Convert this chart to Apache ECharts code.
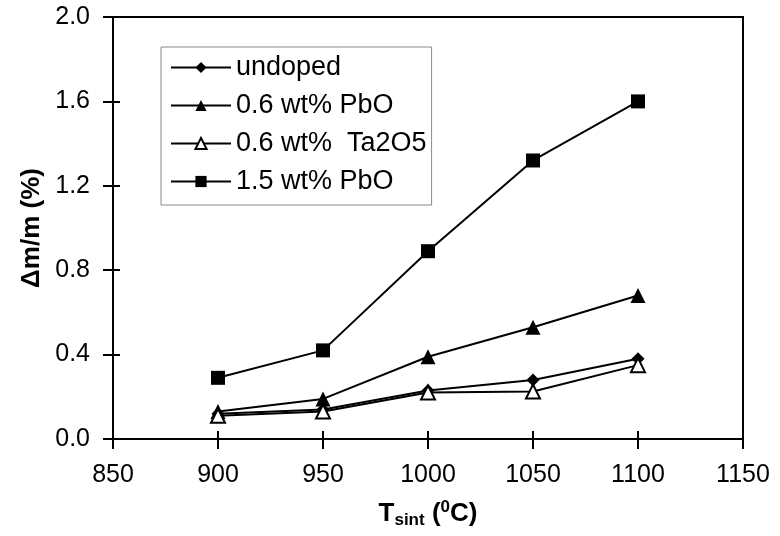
<!DOCTYPE html>
<html>
<head>
<meta charset="utf-8">
<title>Δm/m vs Tsint</title>
<script src="https://cdn.jsdelivr.net/npm/echarts@6/dist/echarts.min.js"></script>
<style>
  html, body { margin: 0; padding: 0; background: #fff; }
  #chart { width: 780px; height: 536px; }
</style>
</head>
<body>
<div id="chart"></div>
<script>
// sintering temperature (°C)
var temps = [900, 950, 1000, 1050, 1100];
// mass change (%)
var undoped = [0.12, 0.14, 0.23, 0.28, 0.38];
var pbo06 = [0.13, 0.19, 0.39, 0.53, 0.68];
var ta2o5 = [0.11, 0.13, 0.22, 0.225, 0.35];
var pbo15 = [0.29, 0.42, 0.89, 1.32, 1.60];
var seriesNames = ['undoped', '0.6 wt% PbO', '0.6 wt%  Ta2O5', '1.5 wt% PbO'];

var font = '"Liberation Sans", Arial, sans-serif';

function pairs(vals) {
    return temps.map(function (t, i) { return [t, vals[i]]; });
}

function line(name, vals, symbol, size, fill) {
    return {
        name: name,
        type: 'line',
        data: pairs(vals),
        symbol: symbol,
        symbolSize: size,
        showAllSymbol: true,
        lineStyle: { color: '#000', width: 2 },
        itemStyle: { color: fill, borderColor: '#000', borderWidth: fill === '#fff' ? 2 : 0 },
        emphasis: { disabled: true }
    };
}

var gridBox = { left: 113, right: 37, top: 17, bottom: 97 };

var chart = echarts.init(document.getElementById('chart'));
chart.setOption({
    animation: false,
    textStyle: { fontFamily: font },
    grid: [
        Object.assign({ show: true, borderColor: '#000', borderWidth: 2 }, gridBox),
        // second grid only carries the inner half of the crossing ticks
        Object.assign({ show: false }, gridBox)
    ],
    legend: {
        orient: 'vertical',
        left: 161,
        top: 47,
        data: seriesNames,
        itemWidth: 60,
        itemHeight: 14,
        itemGap: 11,
        padding: [7, 5, 10, 9],
        borderColor: '#888',
        borderWidth: 1,
        backgroundColor: '#fff',
        textStyle: { fontSize: 27, color: '#000', fontFamily: font, lineHeight: 26 }
    },
    xAxis: [{
        type: 'value',
        min: 850, max: 1150, interval: 50,
        splitLine: { show: false },
        axisLine: { lineStyle: { color: '#000', width: 2 } },
        axisTick: { length: 10, lineStyle: { color: '#000', width: 2 } },
        axisLabel: {
            fontSize: 25, color: '#000', margin: 24, fontFamily: font,
            formatter: function (v) { return String(v); }
        },
        name: '{b|T}{sub|sint}{b| (}{sup|0}{b|C)}',
        nameLocation: 'middle',
        nameGap: 60,
        nameTextStyle: {
            rich: {
                b: { fontSize: 26, fontWeight: 'bold', fontFamily: font, lineHeight: 30, verticalAlign: 'middle' },
                sub: { fontSize: 17, fontWeight: 'bold', fontFamily: font, lineHeight: 30, verticalAlign: 'bottom', padding: [10, 0, 0, 0] },
                sup: { fontSize: 17, fontWeight: 'bold', fontFamily: font, lineHeight: 30, verticalAlign: 'top', padding: [0, 0, 8, 0] }
            }
        }
    }, {
        gridIndex: 1,
        type: 'value',
        position: 'bottom',
        min: 850, max: 1150, interval: 50,
        splitLine: { show: false },
        axisLine: { show: false },
        axisTick: { show: true, inside: true, length: 8, lineStyle: { color: '#000', width: 2 } },
        axisLabel: { show: false }
    }],
    yAxis: [{
        type: 'value',
        min: 0, max: 2.0, interval: 0.4,
        splitLine: { show: false },
        axisLine: { lineStyle: { color: '#000', width: 2 } },
        axisTick: { length: 10, lineStyle: { color: '#000', width: 2 } },
        axisLabel: {
            fontSize: 25, color: '#000', margin: 23, fontFamily: font,
            formatter: function (v) { return v.toFixed(1); }
        },
        name: 'Δm/m (%)',
        nameLocation: 'middle',
        nameGap: 68,
        nameTextStyle: { fontSize: 26, fontWeight: 'bold', color: '#000', fontFamily: font }
    }, {
        gridIndex: 1,
        type: 'value',
        position: 'left',
        min: 0, max: 2.0, interval: 0.4,
        splitLine: { show: false },
        axisLine: { show: false },
        axisTick: { show: true, inside: true, length: 7, lineStyle: { color: '#000', width: 2 } },
        axisLabel: { show: false }
    }],
    series: [
        line(seriesNames[0], undoped, 'diamond', 13, '#000'),
        line(seriesNames[1], pbo06, 'triangle', 15, '#000'),
        line(seriesNames[2], ta2o5, 'triangle', 14, '#fff'),
        line(seriesNames[3], pbo15, 'rect', 14, '#000'),
        {
            // invisible copy so the tick-only axes of grid 1 are not blank
            name: 'ticks',
            type: 'line',
            xAxisIndex: 1,
            yAxisIndex: 1,
            data: pairs(pbo15),
            symbol: 'none',
            silent: true,
            lineStyle: { opacity: 0 }
        }
    ]
});
</script>
</body>
</html>
